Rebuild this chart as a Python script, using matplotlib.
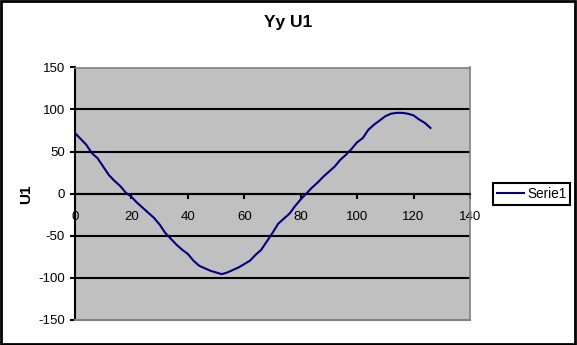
"""
Yy U1 chart (Excel-style look)
"""

import matplotlib
matplotlib.use("Agg")
import matplotlib.pyplot as plt
from matplotlib.patches import Rectangle

plt.rcParams["font.family"] = ["Liberation Sans", "DejaVu Sans"]
plt.rcParams["axes.unicode_minus"] = False

# --- data ---
x_vals = list(range(0, 127, 2))
u1_vals = [
    72, 65, 58, 48, 42, 32, 22, 15, 9, 1,
    -4, -11, -17, -23, -29, -37, -47, -54, -61, -67,
    -72, -80, -86, -89, -92, -94, -96, -94, -91, -88,
    -84, -80, -73, -67, -57, -47, -36, -30, -24, -15,
    -7, 0, 7, 13, 20, 26, 32, 40, 46, 53,
    61, 66, 76, 82, 87, 92, 95, 96, 96, 95,
    93, 88, 84, 78,
]
series_name = "Serie1"
chart_title = "Yy U1"
y_label = "U1"
x_ticks = [0, 20, 40, 60, 80, 100, 120, 140]
y_ticks = [-150, -100, -50, 0, 50, 100, 150]

W, H = 577, 345

# --- figure ---
fig = plt.figure(figsize=(W / 100, H / 100), dpi=100)
ax = fig.add_axes([75 / W, 1 - 319.5 / H, (470 - 75) / W, (319.5 - 67.5) / H])
ax.set_facecolor("#c0c0c0")

ax.plot(x_vals, u1_vals, color="#000080", linewidth=1.5, label=series_name, zorder=4)

ax.set_xlim(0, 140)
ax.set_ylim(-150, 150)

# gridlines
for yv in y_ticks[1:-1]:
    ax.axhline(yv, color="black", linewidth=1.5, zorder=2)

# spines
ax.spines["top"].set_color("#808080")
ax.spines["right"].set_color("#808080")
ax.spines["top"].set_linewidth(1.2)
ax.spines["right"].set_linewidth(1.2)
ax.spines["left"].set_color("black")
ax.spines["left"].set_linewidth(1.5)
ax.spines["bottom"].set_position(("data", 0))
ax.spines["bottom"].set_color("black")
ax.spines["bottom"].set_linewidth(1.5)
ax.axhline(-150, color="#808080", linewidth=1.5, clip_on=False, zorder=3)

ax.set_xticks(x_ticks)
ax.set_yticks(y_ticks)
ax.tick_params(axis="x", direction="out", length=3.6, width=1.5, pad=9, labelsize=9.5)
ax.tick_params(axis="y", direction="out", length=3.6, width=1.5, pad=3.6, labelsize=9.5)

fig.text(288.5 / W, 1 - 22 / H, chart_title, ha="center", va="center",
         fontsize=12.5, fontweight="bold")
fig.text(26 / W, 1 - 194 / H, y_label, ha="center", va="center",
         fontsize=11, fontweight="bold", rotation=90)

leg = fig.legend(loc="center left", bbox_to_anchor=(493 / W, 1 - 194 / H),
                 fancybox=False, framealpha=1, edgecolor="black",
                 fontsize=9.8, handlelength=2.0, handletextpad=0.2,
                 borderpad=0.3, borderaxespad=0)
leg.get_frame().set_linewidth(1.5)

# outer chart border
fig.patches.append(Rectangle((0.002, 0.003), 0.995, 0.994, transform=fig.transFigure,
                             fill=False, edgecolor="black", linewidth=2))

fig.savefig("out.png", dpi=100)
